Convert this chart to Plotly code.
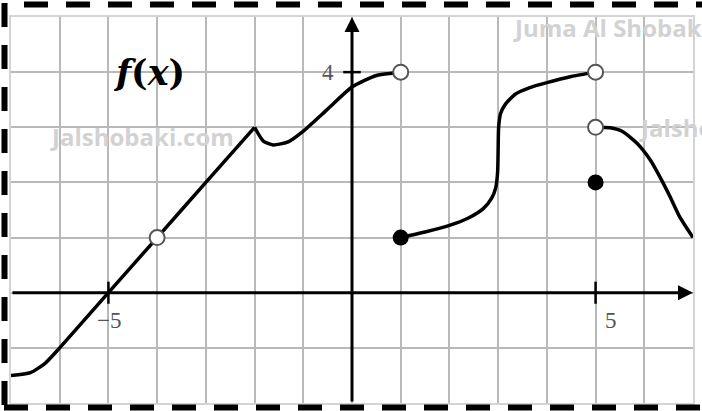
import plotly.graph_objects as go

# ---- data ----
p1_x = [-7.0, -6.6, -6.3, -6.0, -5.0, -4.0, -3.0, -2.0]
p1_y = [-1.5, -1.45, -1.28, -1.0, 0.0, 1.0, 2.0, 3.0]

p2_x = [-2.0, -1.82, -1.62, -1.3, -1.0, -0.5, 0.0, 0.5, 1.0]
p2_y = [3.0, 2.75, 2.68, 2.74, 2.93, 3.33, 3.73, 3.94, 4.0]

p3_x = [1.0, 1.5, 2.0, 2.4, 2.7, 2.87, 2.95, 2.99, 3.0, 3.01, 3.05, 3.15, 3.35, 3.65, 4.0, 4.5, 5.0]
p3_y = [1.0, 1.1, 1.22, 1.36, 1.53, 1.72, 1.9, 2.2, 2.6, 3.0, 3.25, 3.42, 3.6, 3.72, 3.81, 3.92, 4.0]

p4_x = [5.0, 5.3, 5.56, 5.85, 6.12, 6.32, 6.53, 6.73, 7.0]
p4_y = [3.0, 2.99, 2.92, 2.71, 2.41, 2.1, 1.74, 1.37, 1.0]

open_x = [-4, 1, 5, 5]
open_y = [1, 4, 4, 3]
closed_x = [1, 5]
closed_y = [1, 2]

x_tick_vals = [-5, 5]
x_tick_text = ["\u22125", "5"]
y_tick_vals = [4]
y_tick_text = ["4"]

X_RANGE = [-7, 7]
Y_RANGE = [-2, 5]

W, H = 702, 411
ML, MR, MT, MB = 11, 9, 17, 8
PW, PH = W - ML - MR, H - MT - MB


def px2paper_x(px):
    return (px - ML) / PW


def px2paper_y(py):
    return (H - MB - py) / PH


fig = go.Figure()

for xs, ys in [(p1_x, p1_y), (p2_x, p2_y), (p3_x, p3_y), (p4_x, p4_y)]:
    fig.add_trace(go.Scatter(x=xs, y=ys, mode="lines",
                             line=dict(color="black", width=3.5, shape="spline", smoothing=0.6),
                             hoverinfo="skip", showlegend=False))

fig.add_trace(go.Scatter(x=open_x, y=open_y, mode="markers",
                         marker=dict(symbol="circle", size=15, color="white",
                                     line=dict(color="#555555", width=2)),
                         hoverinfo="skip", showlegend=False))
fig.add_trace(go.Scatter(x=closed_x, y=closed_y, mode="markers",
                         marker=dict(symbol="circle", size=16, color="black"),
                         hoverinfo="skip", showlegend=False))

shapes = []
# tick marks
for xv in x_tick_vals:
    shapes.append(dict(type="line", xref="x", yref="y", x0=xv, x1=xv, y0=-0.2, y1=0.2,
                       line=dict(color="black", width=2.5)))
for yv in y_tick_vals:
    shapes.append(dict(type="line", xref="x", yref="y", x0=-0.18, x1=0.18, y0=yv, y1=yv,
                       line=dict(color="black", width=2.5)))

# dashed frame
dash = "24px,18px"
shapes.append(dict(type="line", xref="paper", yref="paper",
                   x0=px2paper_x(24), x1=px2paper_x(702), y0=px2paper_y(4.5), y1=px2paper_y(4.5),
                   line=dict(color="black", width=6, dash=dash)))
shapes.append(dict(type="line", xref="paper", yref="paper",
                   x0=px2paper_x(4.5), x1=px2paper_x(4.5), y0=px2paper_y(3), y1=px2paper_y(411),
                   line=dict(color="black", width=6, dash=dash)))
shapes.append(dict(type="line", xref="paper", yref="paper",
                   x0=px2paper_x(4), x1=px2paper_x(702), y0=px2paper_y(407.5), y1=px2paper_y(407.5),
                   line=dict(color="black", width=6, dash=dash)))

annotations = []
# axes with arrows
annotations.append(dict(x=X_RANGE[1], y=0, ax=X_RANGE[0], ay=0, xref="x", yref="y",
                        axref="x", ayref="y", text="", showarrow=True,
                        arrowhead=2, arrowsize=1, arrowwidth=3, arrowcolor="black"))
annotations.append(dict(x=0, y=Y_RANGE[1], ax=0, ay=Y_RANGE[0], xref="x", yref="y",
                        axref="x", ayref="y", text="", showarrow=True,
                        arrowhead=2, arrowsize=1, arrowwidth=3, arrowcolor="black"))

tick_font = dict(family="Liberation Serif", size=23, color="#555555")
annotations.append(dict(x=x_tick_vals[0], y=0, xref="x", yref="y", text=x_tick_text[0],
                        showarrow=False, xshift=1, yshift=-28, font=tick_font))
annotations.append(dict(x=x_tick_vals[1], y=0, xref="x", yref="y", text=x_tick_text[1],
                        showarrow=False, xshift=15, yshift=-28, font=tick_font))
annotations.append(dict(x=0, y=y_tick_vals[0], xref="x", yref="y", text=y_tick_text[0],
                        showarrow=False, xshift=-24, yshift=0, font=tick_font))

# function label
annotations.append(dict(x=-4.17, y=4.0, xref="x", yref="y",
                        text="<b><i>f</i>(<i>x</i>)</b>", showarrow=False,
                        font=dict(family="DejaVu Serif", size=35, color="black")))

# watermarks
wm = dict(family="Open Sans", size=24, color="#d2d2d2")
annotations.append(dict(x=px2paper_x(142), y=px2paper_y(136), xref="paper", yref="paper",
                        xanchor="center", yanchor="middle",
                        text="<b>Jalshobaki.com</b>", showarrow=False, font=wm))
annotations.append(dict(x=px2paper_x(511), y=px2paper_y(28), xref="paper", yref="paper",
                        xanchor="left", yanchor="middle",
                        text="<b>Juma Al Shobaki</b>", showarrow=False, font=wm))
annotations.append(dict(x=px2paper_x(637), y=px2paper_y(127), xref="paper", yref="paper",
                        xanchor="left", yanchor="middle",
                        text="<b>Jalshobaki.com</b>", showarrow=False, font=wm))

axis_common = dict(showgrid=True, gridcolor="#b9b9b9", gridwidth=1.5, dtick=1,
                   zeroline=False, showticklabels=False, ticks="",
                   showline=True, mirror=True, linecolor="#d4d4d4", linewidth=2,
                   fixedrange=True)

fig.update_layout(
    width=W, height=H,
    margin=dict(l=ML, r=MR, t=MT, b=MB),
    paper_bgcolor="white", plot_bgcolor="white",
    xaxis=dict(range=X_RANGE, tick0=0, **axis_common),
    yaxis=dict(range=Y_RANGE, tick0=0, **axis_common),
    shapes=shapes, annotations=annotations,
    showlegend=False,
)

fig.write_html("out.html", config={"displayModeBar": False},
               post_script="document.body.style.margin='0px';document.body.style.overflow='hidden';")
